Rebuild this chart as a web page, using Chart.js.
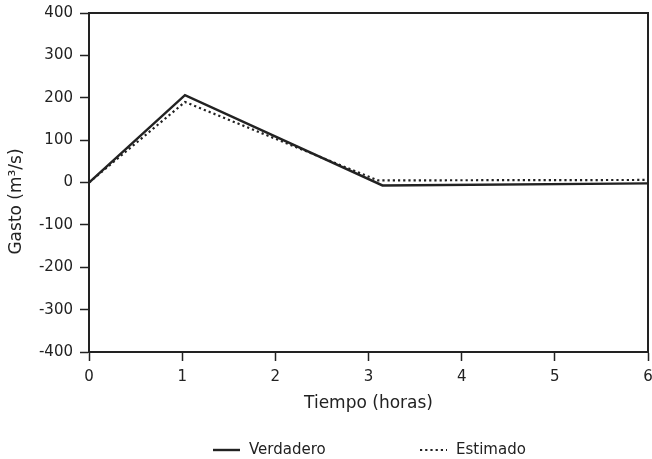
<!DOCTYPE html>
<html>
<head>
<meta charset="utf-8">
<script src="https://cdn.jsdelivr.net/npm/chart.js@4"></script>
<style>
  html, body { margin: 0; padding: 0; background: #fff; }
  #wrap { width: 652px; height: 459px; }
</style>
</head>
<body>
<div id="wrap"><canvas id="gasto" width="652" height="459"></canvas></div>
<script>
// Values.
const seriesNames = ['Verdadero', 'Estimado'];
const timeVerdadero = [0, 1.03, 3.15, 6];
const gastoVerdadero = [0, 206, -7, -2];
const timeEstimado = [0, 1.03, 3.1, 6];
const gastoEstimado = [0, 190, 5, 6];
const xTicks = [0, 1, 2, 3, 4, 5, 6];
const yTicks = [-400, -300, -200, -100, 0, 100, 200, 300, 400];

const ink = '#222';
const family = "'DejaVu Sans', 'Liberation Sans', sans-serif";
const tickFont = { family: family, size: 15 };
const titleFont = { family: family, size: 17 };

function toPoints(xs, ys) {
  return xs.map((x, i) => ({ x: x, y: ys[i] }));
}

// Closes the box on top and right like the printed figure.
const frame = {
  id: 'frame',
  afterDatasetsDraw(chart) {
    const a = chart.chartArea, ctx = chart.ctx;
    ctx.save();
    ctx.strokeStyle = ink;
    ctx.lineWidth = 2;
    ctx.strokeRect(a.left, a.top, a.right - a.left, a.bottom - a.top);
    ctx.restore();
  }
};

// Y title sits a little below the middle of the axis in the original,
// and the legend is two wide-spaced entries under the x title.
const extras = {
  id: 'extras',
  afterDraw(chart) {
    const ctx = chart.ctx, a = chart.chartArea;
    ctx.save();
    ctx.fillStyle = ink;
    ctx.textBaseline = 'middle';

    ctx.save();
    ctx.font = titleFont.size + 'px ' + family;
    ctx.textAlign = 'center';
    ctx.translate(17, (a.top + a.bottom) / 2 + 19);
    ctx.rotate(-Math.PI / 2);
    ctx.fillText('Gasto (m³/s)', 0, 0);
    ctx.restore();

    ctx.font = tickFont.size + 'px ' + family;
    ctx.textAlign = 'left';
    const y = chart.height - 9;
    const starts = [213, 420];
    chart.data.datasets.forEach((ds, i) => {
      const x = starts[i];
      ctx.strokeStyle = ds.borderColor;
      ctx.lineWidth = ds.borderWidth;
      ctx.setLineDash(ds.borderDash || []);
      ctx.beginPath();
      ctx.moveTo(x, y);
      ctx.lineTo(x + 27, y);
      ctx.stroke();
      ctx.fillText(ds.label, x + 36, y);
    });
    ctx.restore();
  }
};

new Chart(document.getElementById('gasto'), {
  type: 'scatter',
  data: {
    datasets: [
      { label: seriesNames[0], data: toPoints(timeVerdadero, gastoVerdadero), showLine: true,
        borderColor: ink, borderWidth: 2.4, pointRadius: 0, tension: 0 },
      { label: seriesNames[1], data: toPoints(timeEstimado, gastoEstimado), showLine: true,
        borderColor: ink, borderWidth: 2.2, borderDash: [2.2, 3], pointRadius: 0, tension: 0 }
    ]
  },
  options: {
    responsive: false,
    animation: false,
    layout: { padding: { top: 0, right: 0, bottom: 35, left: 0 } },
    plugins: { legend: { display: false }, tooltip: { enabled: false } },
    scales: {
      x: {
        type: 'linear', min: xTicks[0], max: xTicks[xTicks.length - 1],
        afterBuildTicks: s => { s.ticks = xTicks.map(v => ({ value: v })); },
        afterFit: s => { s.height = 72; s.paddingRight = 4; s.paddingLeft = 0; },
        grid: { drawOnChartArea: false, drawTicks: true, tickLength: 9, tickColor: ink, tickWidth: 1.5 },
        border: { display: true, color: ink, width: 2 },
        ticks: { color: ink, font: tickFont, padding: 7, maxRotation: 0 },
        title: { display: true, text: 'Tiempo (horas)', color: ink, font: titleFont, padding: { top: 4, bottom: 10 } }
      },
      y: {
        type: 'linear', min: yTicks[0], max: yTicks[yTicks.length - 1],
        afterBuildTicks: s => { s.ticks = yTicks.map(v => ({ value: v })); },
        afterFit: s => { s.width = 89; s.paddingTop = 13; s.paddingBottom = 0; },
        grid: { drawOnChartArea: false, drawTicks: true, tickLength: 9, tickColor: ink, tickWidth: 1.5 },
        border: { display: true, color: ink, width: 2 },
        ticks: { color: ink, font: tickFont, padding: 7 }
      }
    }
  },
  plugins: [frame, extras]
});
</script>
</body>
</html>
